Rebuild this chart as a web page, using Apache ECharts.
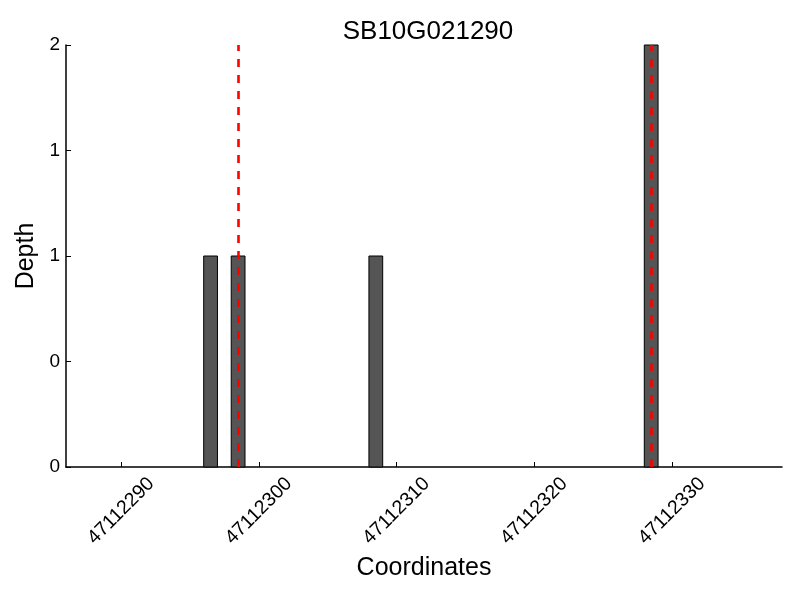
<!DOCTYPE html>
<html>
<head>
<meta charset="utf-8">
<script src="https://cdn.jsdelivr.net/npm/echarts@6/dist/echarts.min.js"></script>
<style>html,body{margin:0;padding:0;background:#fff}#c{width:800px;height:600px}</style>
</head>
<body>
<div id="c"></div>
<script>
// Data
var chartTitle = 'SB10G021290';
var positions = [47112296, 47112298, 47112308, 47112328];
var depths = [1, 1, 1, 2];
var markerPositions = [47112298.5, 47112328.5];
var xTickValues = [47112290, 47112300, 47112310, 47112320, 47112330];
var xTickLabels = ['47112290', '47112300', '47112310', '47112320', '47112330'];
var yTickValues = [0, 0.5, 1, 1.5, 2];
var yTickLabels = ['0', '0', '1', '1', '2'];
var xRange = [47112286, 47112338];
var yRange = [0, 2];

var FONT = 'Liberation Sans, Arial, Helvetica, sans-serif';
var barData = positions.map(function (p, i) { return [p, depths[i]]; });

var chart = echarts.init(document.getElementById('c'), null, {renderer: 'canvas'});
chart.setOption({
  backgroundColor: '#fff',
  animation: false,
  title: {
    text: chartTitle,
    left: 423, top: 14, textAlign: 'center',
    textStyle: {fontFamily: FONT, fontSize: 26, fontWeight: 'normal', color: '#000'}
  },
  grid: {left: 66, right: 18, top: 45, bottom: 133, containLabel: false},
  xAxis: {
    type: 'value',
    min: xRange[0], max: xRange[1],
    name: 'Coordinates', nameLocation: 'middle', nameGap: 87,
    nameTextStyle: {fontFamily: FONT, fontSize: 25, color: '#000'},
    axisLine: {show: true, lineStyle: {color: '#000', width: 1.5}},
    axisTick: {show: true, inside: true, length: 5, customValues: xTickValues, lineStyle: {color: '#000', width: 1}},
    axisLabel: {
      customValues: xTickValues,
      rotate: 45, margin: 44, align: 'center', verticalAlign: 'middle',
      fontFamily: FONT, fontSize: 19.5, color: '#000',
      formatter: function (v) { var i = xTickValues.indexOf(v); return i >= 0 ? xTickLabels[i] : ''; }
    },
    splitLine: {show: false}
  },
  yAxis: {
    type: 'value',
    min: yRange[0], max: yRange[1], interval: 0.5,
    name: 'Depth', nameLocation: 'middle', nameGap: 26, nameRotate: 90,
    nameTextStyle: {fontFamily: FONT, fontSize: 25, color: '#000'},
    axisLine: {show: true, lineStyle: {color: '#000', width: 1.5}},
    axisTick: {show: true, inside: true, length: 5, lineStyle: {color: '#000', width: 1}},
    axisLabel: {
      margin: 6, fontFamily: FONT, fontSize: 19, color: '#000',
      formatter: function (v) { var i = yTickValues.indexOf(v); return i >= 0 ? yTickLabels[i] : ''; }
    },
    splitLine: {show: false}
  },
  series: [{
    type: 'custom',
    data: barData,
    renderItem: function (params, api) {
      var x = api.value(0), v = api.value(1);
      var p0 = api.coord([x, 0]);
      var p1 = api.coord([x + 1, v]);
      return {
        type: 'rect',
        shape: {x: p0[0], y: p1[1], width: p1[0] - p0[0], height: p0[1] - p1[1]},
        style: {fill: '#555555', stroke: '#000', lineWidth: 1}
      };
    },
    markLine: {
      silent: true,
      symbol: ['none', 'none'],
      label: {show: false},
      lineStyle: {color: '#ff0000', width: 2.6, type: [8, 8]},
      data: markerPositions.map(function (m) { return {xAxis: m}; })
    }
  }]
});
</script>
</body>
</html>
